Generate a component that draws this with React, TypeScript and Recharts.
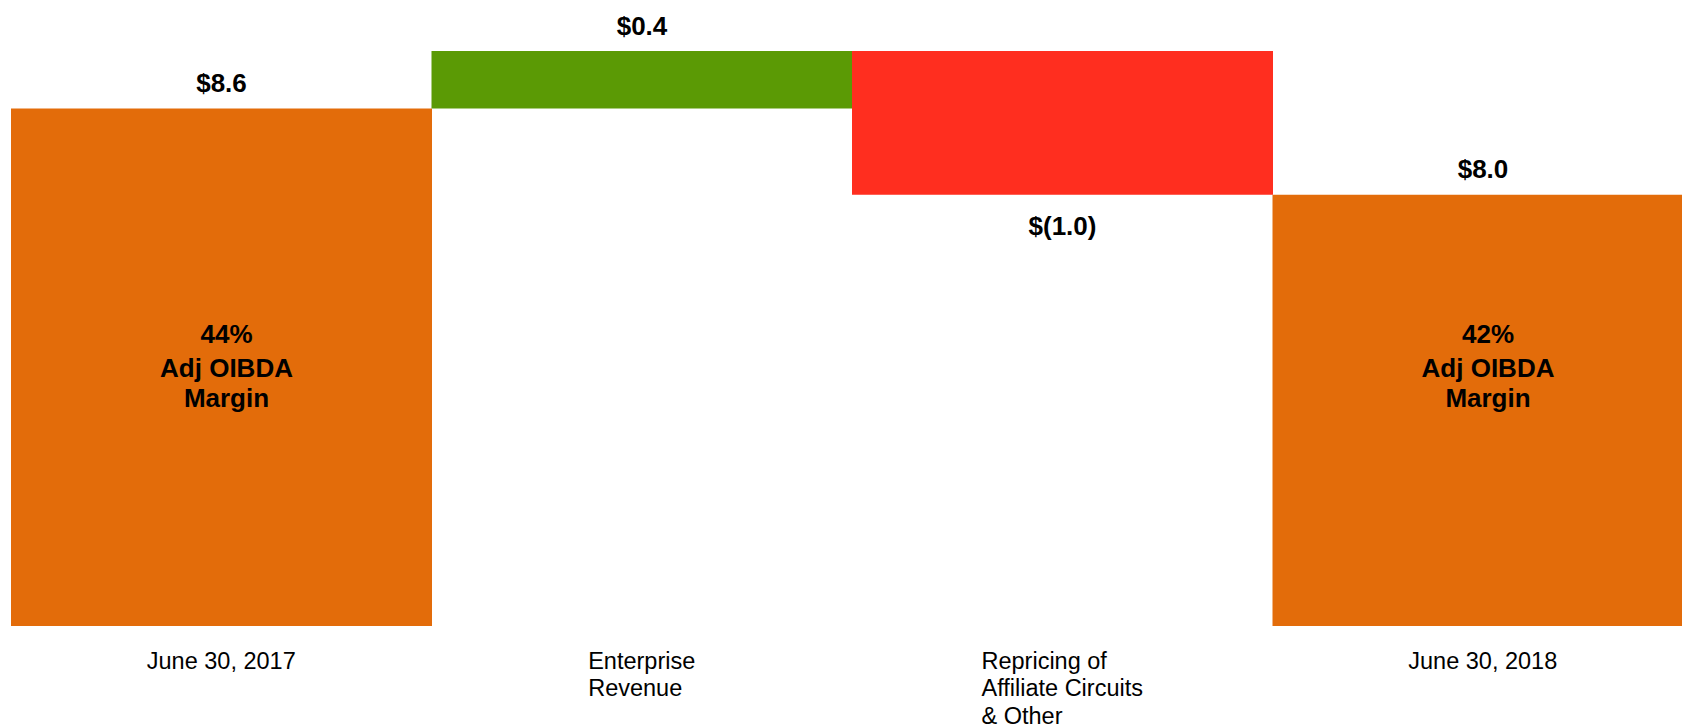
import React from "react";
import { BarChart, Bar, XAxis, YAxis } from "recharts";

const categoryLines: string[][] = [
  ["June 30, 2017"],
  ["Enterprise", "Revenue"],
  ["Repricing of", "Affiliate Circuits", "& Other"],
  ["June 30, 2018"],
];
const barLow = [5.0, 8.6, 8.0, 5.0];
const barHigh = [8.6, 9.0, 9.0, 8.0];
const valueLabels = ["$8.6", "$0.4", "$(1.0)", "$8.0"];
const labelBelow = [false, false, true, false];
const innerLabels: string[][] = [
  ["44%", "Adj OIBDA", "Margin"],
  [],
  [],
  ["42%", "Adj OIBDA", "Margin"],
];
const barColors = ["#E36C0A", "#5B9A05", "#FF2E1F", "#E36C0A"];

const FONT = '"Liberation Sans", Arial, Helvetica, sans-serif';

if (typeof document !== "undefined") {
  document.body.style.margin = "0";
}

const data = categoryLines.map((lines, i) => ({
  name: lines.join(" "),
  range: [barLow[i], barHigh[i]],
}));

let ctx: CanvasRenderingContext2D | null = null;
function measure(text: string, font: string): number {
  if (!ctx) {
    const c = document.createElement("canvas");
    ctx = c.getContext("2d");
  }
  if (!ctx) return text.length * 11;
  ctx.font = font;
  return ctx.measureText(text).width;
}

const CategoryTick = (props: any) => {
  const { x, y, payload } = props;
  const idx = data.findIndex((d) => d.name === payload.value);
  const lines = idx >= 0 ? categoryLines[idx] : [String(payload.value)];
  const fontSize = 23.5;
  const lh = 27.5;
  if (lines.length === 1) {
    return (
      <text x={x} y={y + 42.5} textAnchor="middle" fill="#000" fontSize={fontSize} fontFamily={FONT}>
        {lines[0]}
      </text>
    );
  }
  const maxW = Math.max(...lines.map((l) => measure(l, `${fontSize}px "Liberation Sans"`)));
  const left = x - maxW / 2;
  return (
    <g>
      {lines.map((l, i) => (
        <text key={i} x={left} y={y + 42.5 + i * lh} textAnchor="start" fill="#000" fontSize={fontSize} fontFamily={FONT}>
          {l}
        </text>
      ))}
    </g>
  );
};

const BarShape = (props: any) => {
  const { x, y, width, height, index } = props;
  const top = Math.min(y, y + height);
  const h = Math.abs(height);
  const bottom = top + h;
  const cx = x + width / 2;
  const inner = innerLabels[index] || [];
  const innerOffsets = [283, 249.5, 219.5];
  return (
    <g>
      <rect x={x} y={top} width={width} height={h} fill={barColors[index]} />
      <text
        x={cx}
        y={labelBelow[index] ? bottom + 40 : top - 16.5}
        textAnchor="middle"
        fontSize={26}
        fontWeight="bold"
        fill="#000"
        fontFamily={FONT}
      >
        {valueLabels[index]}
      </text>
      {inner.map((l, i) => (
        <text
          key={i}
          x={cx + 5}
          y={bottom - innerOffsets[i]}
          textAnchor="middle"
          fontSize={26}
          fontWeight="bold"
          fill="#000"
          fontFamily={FONT}
        >
          {l}
        </text>
      ))}
    </g>
  );
};

export default function App() {
  return (
    <div
      style={{
        width: 1682,
        height: 728,
        overflow: "hidden",
        position: "relative",
        background: "#fff",
      }}
    >
      <BarChart
        width={1698}
        height={728}
        data={data}
        margin={{ top: 51, right: 5, bottom: 0, left: 11 }}
        barCategoryGap={0}
        barGap={0}
      >
        <XAxis
          dataKey="name"
          axisLine={false}
          tickLine={false}
          tickSize={0}
          tickMargin={0}
          height={102}
          interval={0}
          tick={<CategoryTick />}
        />
        <YAxis hide domain={[5, 9]} type="number" />
        <Bar dataKey="range" isAnimationActive={false} shape={<BarShape />} />
      </BarChart>
    </div>
  );
}
